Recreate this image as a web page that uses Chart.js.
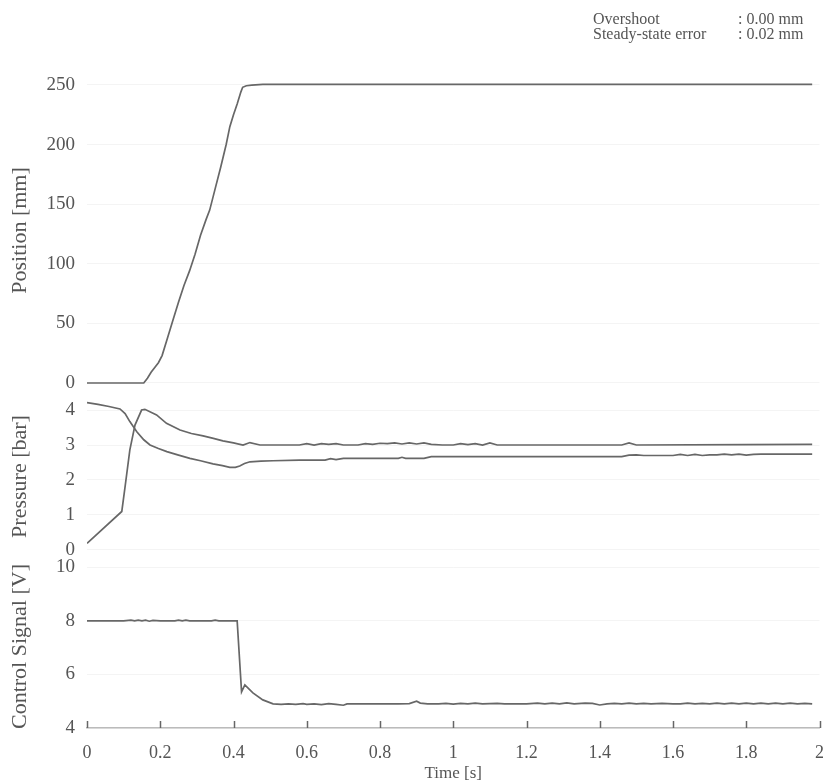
<!DOCTYPE html>
<html>
<head>
<meta charset="utf-8">
<script src="https://cdn.jsdelivr.net/npm/chart.js"></script>
<style>
  body { margin: 0; background: #fff; }
  #wrap { position: relative; width: 824px; height: 784px; }
  .note { position: absolute; font: 16px 'Liberation Serif', serif; color: #555; white-space: nowrap; line-height: 16px; }
</style>
</head>
<body>
<div id="wrap">
  <canvas id="chart"></canvas>
  <div class="note" style="left:593px; top:11px;">Overshoot</div>
  <div class="note" style="left:738px; top:11px;">: 0.00 mm</div>
  <div class="note" style="left:593px; top:26px;">Steady-state error</div>
  <div class="note" style="left:738px; top:26px;">: 0.02 mm</div>
</div>
<script>
// position [mm]
const posTime = [0, 0.155, 0.165, 0.175, 0.185, 0.195, 0.205, 0.22, 0.235, 0.25, 0.265, 0.28, 0.295, 0.31, 0.325, 0.335, 0.35, 0.365, 0.38, 0.39, 0.40, 0.41, 0.42, 0.425, 0.435, 0.45, 0.48, 1.98];
const posValue = [0, 0, 4, 9, 13, 17, 23, 38, 53, 68, 82, 94, 108, 124, 137, 145, 163, 181, 200, 215, 225, 234, 244, 248, 249.3, 249.8, 250.5, 250.5];

// pressure chamber A (starts high)
const presATime = [0, 0.03, 0.06, 0.09, 0.104, 0.117, 0.136, 0.155, 0.172, 0.195, 0.218, 0.25, 0.281, 0.31, 0.344, 0.37, 0.39, 0.405, 0.417, 0.43, 0.445, 0.475, 0.508, 0.58, 0.65, 0.665, 0.68, 0.7, 0.85, 0.86, 0.87, 0.92, 0.94, 1.46, 1.48, 1.5, 1.52, 1.6, 1.62, 1.64, 1.66, 1.68, 1.7, 1.72, 1.74, 1.76, 1.78, 1.8, 1.82, 1.84, 1.98];
const presAValue = [4.21, 4.16, 4.1, 4.03, 3.9, 3.67, 3.38, 3.15, 3.0, 2.9, 2.81, 2.71, 2.62, 2.55, 2.46, 2.41, 2.36, 2.36, 2.4, 2.47, 2.52, 2.54, 2.55, 2.57, 2.57, 2.61, 2.58, 2.62, 2.62, 2.65, 2.62, 2.62, 2.67, 2.67, 2.71, 2.72, 2.7, 2.7, 2.73, 2.7, 2.73, 2.7, 2.72, 2.72, 2.74, 2.72, 2.74, 2.71, 2.73, 2.74, 2.74];

// pressure chamber B (starts low)
const presBTime = [0, 0.095, 0.104, 0.117, 0.131, 0.149, 0.158, 0.19, 0.217, 0.254, 0.285, 0.317, 0.345, 0.371, 0.4, 0.426, 0.445, 0.472, 0.52, 0.58, 0.6, 0.62, 0.64, 0.66, 0.68, 0.7, 0.74, 0.76, 0.78, 0.8, 0.82, 0.84, 0.86, 0.88, 0.9, 0.92, 0.94, 0.97, 1.0, 1.02, 1.04, 1.06, 1.08, 1.1, 1.12, 1.2, 1.46, 1.48, 1.5, 1.8, 1.98];
const presBValue = [0.19, 1.1, 1.81, 2.86, 3.57, 4.0, 4.02, 3.86, 3.62, 3.43, 3.33, 3.26, 3.19, 3.12, 3.06, 3.0, 3.07, 3.0, 3.0, 3.0, 3.04, 3.0, 3.04, 3.02, 3.04, 3.0, 3.0, 3.04, 3.02, 3.05, 3.04, 3.06, 3.03, 3.06, 3.03, 3.06, 3.02, 3.0, 3.0, 3.04, 3.01, 3.04, 3.0, 3.06, 3.0, 3.0, 3.0, 3.06, 3.0, 3.01, 3.02];

// control signal [V]
const ctrlTime = [0, 0.1, 0.12, 0.13, 0.14, 0.15, 0.16, 0.17, 0.18, 0.2, 0.24, 0.25, 0.26, 0.27, 0.28, 0.34, 0.35, 0.36, 0.41, 0.422, 0.431, 0.453, 0.48, 0.508, 0.53, 0.55, 0.57, 0.59, 0.6, 0.62, 0.64, 0.66, 0.68, 0.7, 0.71, 0.75, 0.8, 0.85, 0.88, 0.9, 0.91, 0.93, 0.96, 0.98, 1.0, 1.02, 1.04, 1.06, 1.08, 1.12, 1.14, 1.2, 1.23, 1.25, 1.27, 1.29, 1.31, 1.33, 1.36, 1.38, 1.4, 1.42, 1.44, 1.46, 1.48, 1.5, 1.52, 1.54, 1.57, 1.6, 1.62, 1.64, 1.66, 1.68, 1.7, 1.72, 1.74, 1.76, 1.78, 1.8, 1.82, 1.84, 1.86, 1.88, 1.9, 1.92, 1.94, 1.96, 1.98];
const ctrlValue = [8.0, 8.0, 8.03, 8.0, 8.03, 8.0, 8.03, 7.99, 8.02, 8.0, 8.0, 8.03, 8.0, 8.03, 8.0, 8.0, 8.03, 8.0, 8.0, 5.35, 5.61, 5.31, 5.05, 4.9, 4.88, 4.9, 4.88, 4.91, 4.88, 4.9, 4.87, 4.91, 4.88, 4.85, 4.9, 4.9, 4.9, 4.9, 4.91, 5.0, 4.93, 4.9, 4.9, 4.92, 4.89, 4.92, 4.9, 4.93, 4.9, 4.92, 4.9, 4.9, 4.93, 4.9, 4.93, 4.9, 4.94, 4.9, 4.93, 4.92, 4.86, 4.9, 4.92, 4.9, 4.93, 4.9, 4.92, 4.9, 4.92, 4.9, 4.9, 4.93, 4.9, 4.92, 4.9, 4.93, 4.9, 4.93, 4.9, 4.93, 4.9, 4.93, 4.9, 4.93, 4.9, 4.93, 4.9, 4.92, 4.9];

const pts = (xs, ys) => xs.map((x, i) => ({ x: x, y: ys[i] }));

const LINE = '#676767';
const TEXT = '#555';
Chart.defaults.font.family = "'Liberation Serif', 'Times New Roman', serif";
Chart.defaults.color = TEXT;

const line = (data, axis) => ({
  data: data, yAxisID: axis, borderColor: LINE, borderWidth: 1.7,
  pointRadius: 0, tension: 0, fill: false
});

// small tick marks pointing up from the time axis
const innerTicks = {
  id: 'innerTicks',
  afterDraw(chart) {
    const sx = chart.scales.x, ctx = chart.ctx, b = chart.chartArea.bottom;
    ctx.save();
    ctx.strokeStyle = '#666';
    ctx.lineWidth = 1.5;
    sx.ticks.forEach(t => {
      const px = Math.round(sx.getPixelForValue(t.value)) + 0.5;
      ctx.beginPath();
      ctx.moveTo(px, b);
      ctx.lineTo(px, b - 7);
      ctx.stroke();
    });
    ctx.restore();
  }
};

const yAxis = (min, max, step, weight, title) => ({
  type: 'linear', position: 'left', stack: 'panels', stackWeight: weight,
  min: min, max: max,
  border: { display: false },
  grid: { color: 'rgba(0,0,0,0.045)', drawTicks: false },
  ticks: { stepSize: step, includeBounds: false, autoSkip: false, padding: 12, font: { size: 19 }, color: TEXT },
  title: { display: true, text: title, font: { size: 22 }, color: TEXT, padding: { top: 7, bottom: 0 } },
  afterFit: s => { s.width = 87; }
});

new Chart(document.getElementById('chart'), {
  type: 'line',
  data: {
    datasets: [
      line(pts(posTime, posValue), 'yPos'),
      line(pts(presATime, presAValue), 'yPres'),
      line(pts(presBTime, presBValue), 'yPres'),
      line(pts(ctrlTime, ctrlValue), 'yCtrl')
    ]
  },
  options: {
    responsive: true,
    maintainAspectRatio: false,
    animation: false,
    layout: { padding: { top: 73, left: 0, right: 4, bottom: 0 } },
    plugins: { legend: { display: false }, tooltip: { enabled: false } },
    scales: {
      x: {
        type: 'linear', min: 0, max: 2,
        border: { display: true, color: '#bbb', width: 1.5 },
        grid: { display: true, drawOnChartArea: false, drawTicks: true, tickLength: 14, tickColor: 'rgba(0,0,0,0)' },
        ticks: { stepSize: 0.2, padding: 0, font: { size: 18 }, color: TEXT, maxRotation: 0,
                 callback: v => String(+v.toFixed(1)) },
        title: { display: true, text: 'Time [s]', font: { size: 17 }, color: TEXT, padding: { top: 0, bottom: 0 } },
        afterFit: s => { s.height = 56; }
      },
      yCtrl: yAxis(4, 10.09, 2, 163, 'Control Signal [V]'),
      yPres: yAxis(-0.43, 4.63, 1, 177, 'Pressure [bar]'),
      yPos: yAxis(-4.2, 260, 50, 315, 'Position [mm]')
    }
  },
  plugins: [innerTicks]
});
</script>
</body>
</html>
